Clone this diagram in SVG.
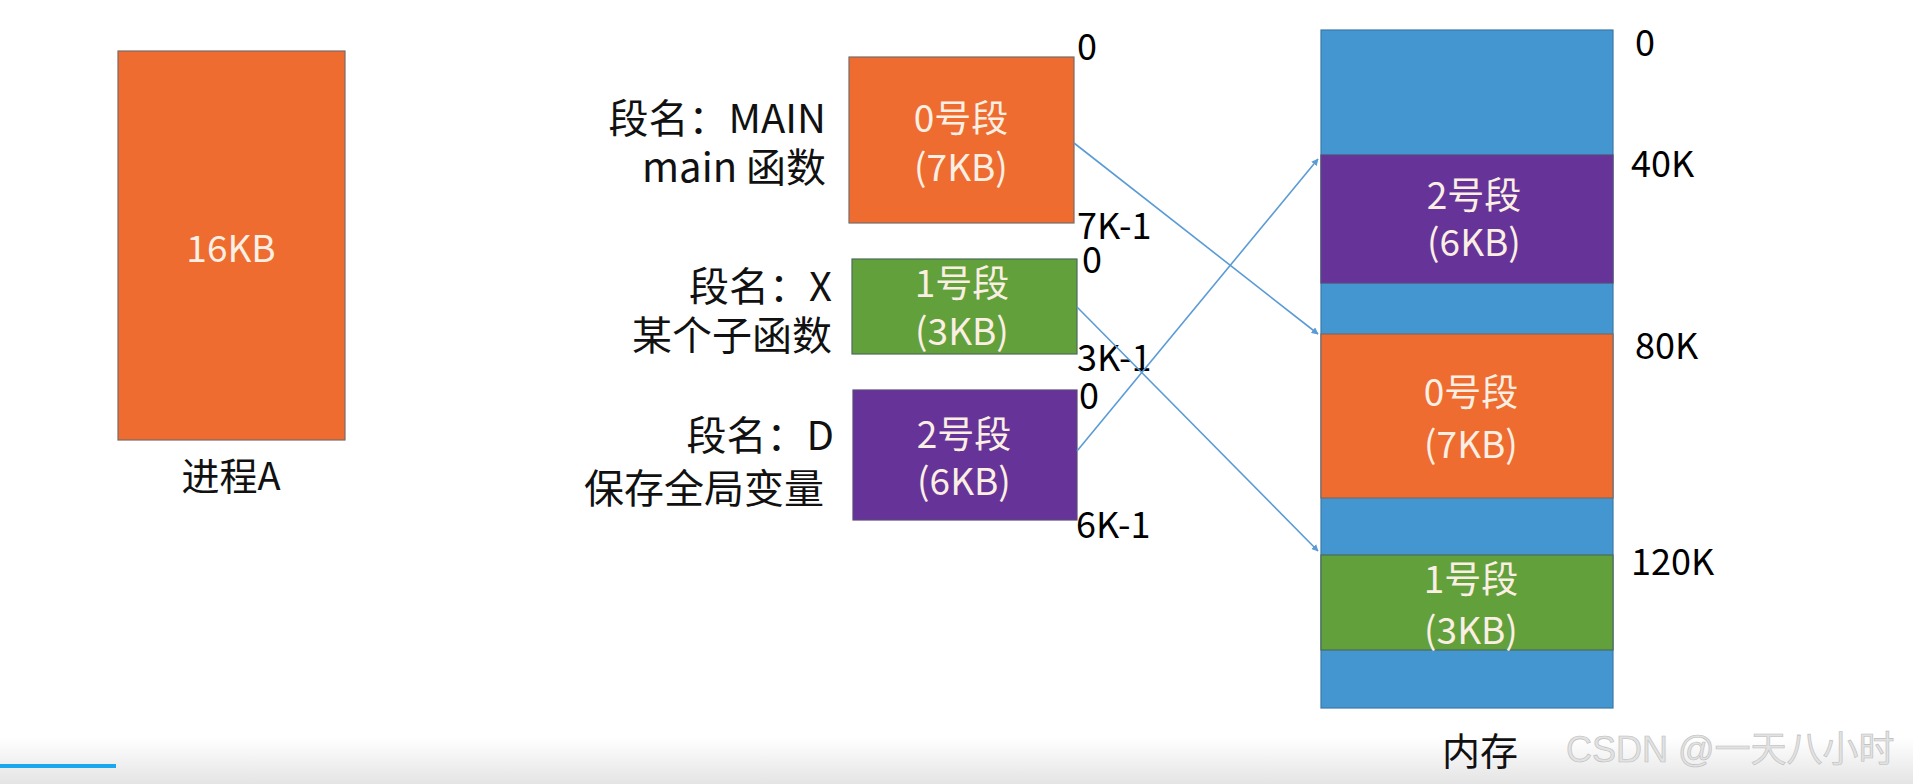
<svg xmlns="http://www.w3.org/2000/svg" width="1913" height="784" viewBox="0 0 1913 784">
<style>
text{font-family:"Noto Sans CJK SC","Liberation Sans",sans-serif;dominant-baseline:central}
.w{fill:#FBEFE3;font-size:37px;text-anchor:middle}
.lbl{fill:#111;font-size:40px;text-anchor:end}
.num{fill:#000;font-size:36px}
.org{fill:#EE6C30;stroke:#7A6A66;stroke-width:1.2}
.grn{fill:#62A03C;stroke:#4B6B5A;stroke-width:1.2}
.pur{fill:#663399;stroke:#5A4A7A;stroke-width:1.2}
.blu{fill:#4496D0;stroke:#3A78A8;stroke-width:1.2}
.con{stroke:#5B9BD5;stroke-width:1.6;fill:none;marker-end:url(#ah)}
</style>
<defs>
<marker id="ah" viewBox="0 0 10 10" refX="9" refY="5" markerWidth="7" markerHeight="7" orient="auto" markerUnits="userSpaceOnUse">
<path d="M0,0 L10,5 L0,10 z" fill="#5B9BD5"/>
</marker>
<linearGradient id="bot" x1="0" y1="0" x2="0" y2="1">
<stop offset="0" stop-color="#ffffff"/>
<stop offset="1" stop-color="#e4e4e4"/>
</linearGradient>
</defs>
<rect width="1913" height="784" fill="#fff"/>
<rect x="0" y="738" width="1913" height="46" fill="url(#bot)"/>
<rect x="0" y="764" width="116" height="4" fill="#1AA7EC"/>

<g id="processA">
<rect class="org" x="118" y="51" width="227" height="389"/>
<text class="w" x="231" y="246">16KB</text>
<text x="231" y="473" style="font-size:38px;fill:#111;text-anchor:middle">进程A</text>
</g>

<g id="seg0">
<rect class="org" x="849" y="57" width="225" height="166"/>
<text class="w" x="961" y="116">0号段</text>
<text class="w" x="961" y="165">(7KB)</text>
<text class="lbl" x="826" y="116">段名：MAIN</text>
<text class="lbl" x="826" y="165">main 函数</text>
<text class="num" x="1077" y="44">0</text>
<text class="num" x="1077" y="223">7K-1</text>
</g>

<g id="seg1">
<rect class="grn" x="852" y="259" width="225" height="95"/>
<text class="w" x="962" y="281">1号段</text>
<text class="w" x="962" y="329">(3KB)</text>
<text class="lbl" x="832" y="284">段名：X</text>
<text class="lbl" x="832" y="333">某个子函数</text>
<text class="num" x="1082" y="257">0</text>
<text class="num" x="1077" y="355">3K-1</text>
</g>

<g id="seg2">
<rect class="pur" x="853" y="390" width="224" height="130"/>
<text class="w" x="964" y="432">2号段</text>
<text class="w" x="964" y="479">(6KB)</text>
<text class="lbl" x="834" y="433">段名：D</text>
<text class="lbl" x="824" y="486">保存全局变量</text>
<text class="num" x="1079" y="393">0</text>
<text class="num" x="1076" y="522">6K-1</text>
</g>

<g id="memory">
<rect class="blu" x="1321" y="30" width="292" height="678"/>
<rect class="pur" x="1321" y="155" width="292" height="128"/>
<text class="w" x="1474" y="193">2号段</text>
<text class="w" x="1474" y="240">(6KB)</text>
<rect class="org" x="1321" y="334" width="292" height="164"/>
<text class="w" x="1471" y="390">0号段</text>
<text class="w" x="1471" y="442">(7KB)</text>
<rect class="grn" x="1321" y="555" width="292" height="95"/>
<text class="w" x="1471" y="577">1号段</text>
<text class="w" x="1471" y="628">(3KB)</text>
<text class="num" x="1635" y="40">0</text>
<text class="num" x="1631" y="161">40K</text>
<text class="num" x="1635" y="343">80K</text>
<text class="num" x="1631" y="559">120K</text>
<text x="1480" y="748" style="font-size:38px;fill:#111;text-anchor:middle">内存</text>
</g>

<g id="connectors">
<line class="con" x1="1074" y1="143" x2="1318" y2="334"/>
<line class="con" x1="1077" y1="307" x2="1318" y2="551"/>
<line class="con" x1="1077" y1="451" x2="1318" y2="159"/>
</g>

<text x="1566" y="749" style="font-size:36px;fill:#e2e2e2;stroke:#bdbdbd;stroke-width:0.6;font-family:'Liberation Sans','Noto Sans CJK SC',sans-serif">CSDN @一天八小时</text>
</svg>
